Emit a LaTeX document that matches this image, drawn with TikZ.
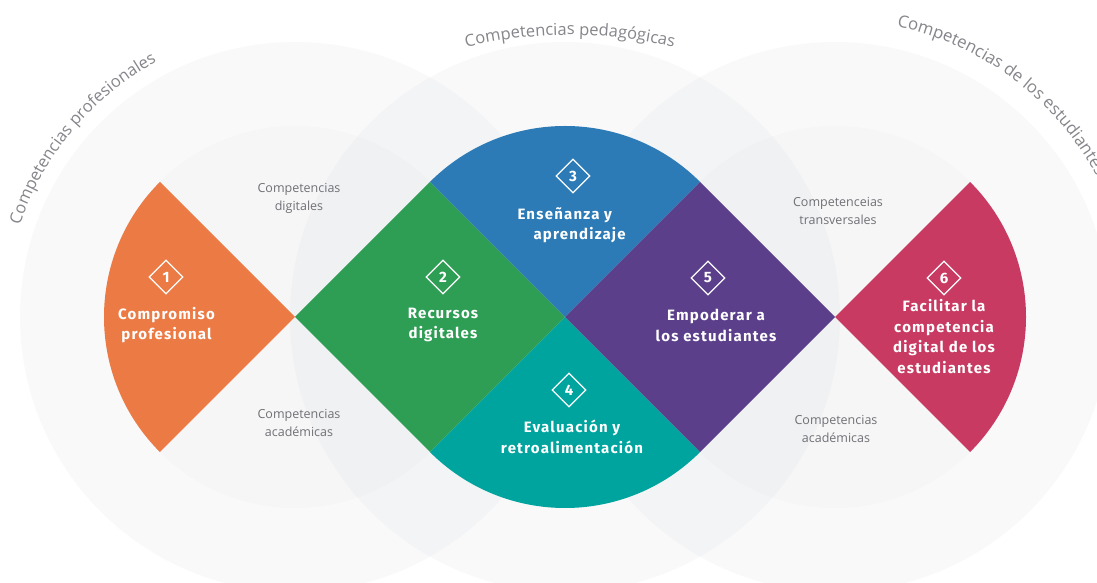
\documentclass[tikz,border=0pt]{standalone}
\usepackage{fontspec}
\setmainfont{Open Sans}
\newfontfamily\boldfont[LetterSpace=8]{Fira Sans}
\newfontfamily\lightfont{Open Sans}
\usetikzlibrary{shapes.geometric,decorations.text,calc}
\definecolor{corange}{HTML}{EC7A45}
\definecolor{cgreen}{HTML}{2F9E55}
\definecolor{cblue}{HTML}{2C7BB6}
\definecolor{cteal}{HTML}{00A49E}
\definecolor{cpurple}{HTML}{5C3F8B}
\definecolor{cred}{HTML}{C83A62}
\definecolor{bgshade}{RGB}{60,70,100}
\definecolor{labgray}{HTML}{707076}
\definecolor{arcgray}{HTML}{85858B}
\begin{document}
\begin{tikzpicture}[x=1pt,y=1pt,
  bigc/.style={fill=bgshade, fill opacity=0.028},
  innc/.style={fill=bgshade, fill opacity=0.014},
  numbox/.style={diamond, draw=white, line width=1.3pt, minimum width=34pt, minimum height=34pt, inner sep=0pt, text=white, font=\boldfont\bfseries\fontsize{15}{15}\selectfont},
  title/.style={text=white, align=center, font=\boldfont\bfseries\fontsize{15}{20.5}\selectfont},
  sublab/.style={text=labgray, align=center, font=\lightfont\fontsize{12.5}{18}\selectfont},
  arctext/.style={decorate, decoration={text along path, text align=#1}},
]
\useasboundingbox (0,0) rectangle (1097,583);
\clip (0,0) rectangle (1097,583);
\fill[white] (0,0) rectangle (1097,583);
% centres
\coordinate (C1) at (295,266);
\coordinate (C2) at (565,266);
\coordinate (C3) at (835,266);
% background circles
\fill[bigc] (C1) circle[radius=275];
\fill[bigc] (C2) circle[radius=275];
\fill[bigc] (C3) circle[radius=275];
\fill[innc] (C1) circle[radius=191];
\fill[innc] (C2) circle[radius=191];
\fill[innc] (C3) circle[radius=191];
% coloured shapes
\fill[corange] (C1) -- ++(135:191) arc[start angle=135, end angle=225, radius=191] -- cycle;
\fill[cgreen] (C1) -- ($(C1)+(45:191)$) -- (C2) -- ($(C1)+(-45:191)$) -- cycle;
\fill[cblue] (C2) -- ++(45:191) arc[start angle=45, end angle=135, radius=191] -- cycle;
\fill[cteal] (C2) -- ++(225:191) arc[start angle=225, end angle=315, radius=191] -- cycle;
\fill[cpurple] (C2) -- ($(C2)+(45:191)$) -- (C3) -- ($(C2)+(-45:191)$) -- cycle;
\fill[cred] (C3) -- ++(-45:191) arc[start angle=-45, end angle=45, radius=191] -- cycle;
% numbers
\node[numbox] (n1) at (166,306) {1};
\node[numbox] (n2) at (443,306) {2};
\node[numbox] (n3) at (573,407) {3};
\node[numbox] (n4) at (569,193) {4};
\node[numbox] (n5) at (708,305) {5};
\node[numbox] (n6) at (944,305) {6};
% titles
\node[title] (t1) at (166.5,258) {Compromiso\\profesional};
\node[title] (t2) at (443,258) {Recursos\\digitales};
\node[title, align=left, anchor=west] (t3) at (514,358) {Enseñanza y\\\hspace*{16pt}aprendizaje};
\node[title] (t4) at (572,146) {Evaluación y\\retroalimentación};
\node[title] (t5) at (716,257.5) {Empoderar a\\los estudiantes};
\node[title] (t6) at (944,246.5) {Facilitar la\\competencia\\digital de los\\estudiantes};
% grey labels
\node[sublab] (g1) at (299,385) {Competencias\\digitales};
\node[sublab] (g2) at (299,160.5) {Competencias\\académicas};
\node[sublab] (g3) at (838,372) {Competenceias\\transversales};
\node[sublab] (g4) at (836,154.5) {Competencias\\académicas};
% curved titles
\path[arctext=center, decoration={text={|\color{arcgray}\lightfont\fontsize{16.5}{16.5}\selectfont|Competencias profesionales}}]
  (C1) ++(175:290) arc[start angle=175, end angle=105, radius=290];
\path[arctext=center, decoration={text={|\color{arcgray}\lightfont\fontsize{16.5}{16.5}\selectfont|Competencias pedagógicas}}]
  (570,98) ++(110:450) arc[start angle=110, end angle=70, radius=450];
\path[arctext=left, decoration={text={|\color{arcgray}\lightfont\fontsize{16.8}{16.8}\selectfont|Competencias de los estudiantes}}]
  (C3) ++(78:297) arc[start angle=78, end angle=0, radius=297];
\end{tikzpicture}
\end{document}
